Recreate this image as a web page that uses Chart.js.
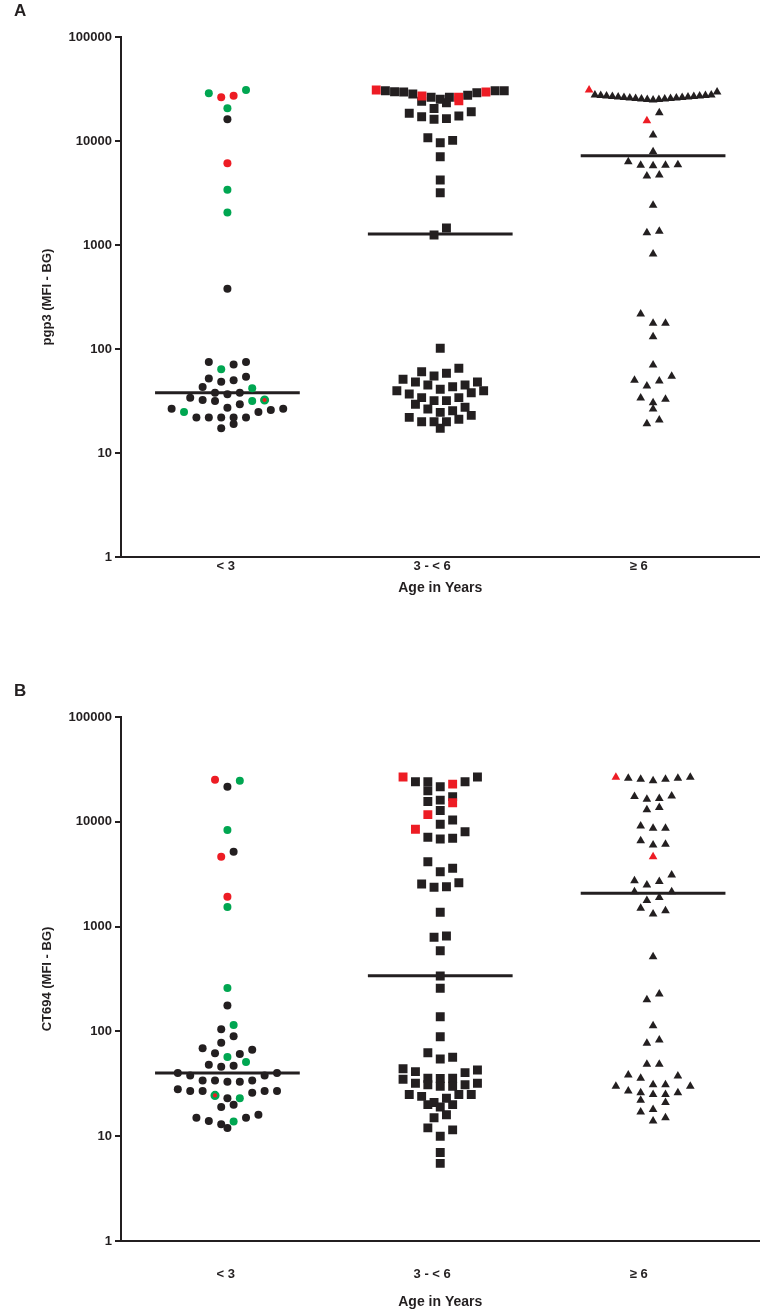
<!DOCTYPE html>
<html><head><meta charset="utf-8">
<script src="https://cdn.jsdelivr.net/npm/chart.js@4"></script>
<style>
body{margin:0;background:#fff;width:766px;height:1313px;position:relative;overflow:hidden;font-family:"Liberation Sans",Arial,sans-serif}
.panel{position:absolute;left:0;width:766px}
.lab{position:absolute;left:14px;font-weight:bold;font-size:17px;line-height:20px;color:#231f20}
</style></head><body>
<div class="panel" style="top:0;height:597px"><canvas id="cA" width="766" height="597"></canvas></div>
<div class="panel" style="top:656px;height:655px"><canvas id="cB" width="766" height="655"></canvas></div>
<div class="lab" style="top:1px">A</div>
<div class="lab" style="top:681px">B</div>
<script>
// ---------- DATA ----------
const categories = ['< 3', '3 - < 6', '\u2265 6'];
const yTicks = [1, 10, 100, 1000, 10000, 100000];

// Panel A : pgp3
const aLt3Black = [16200, 380, 75, 71, 75, 54, 50, 48.5, 52, 43, 38, 34, 36.7, 38, 29.4, 31.6, 32.3, 27.3, 26.7, 24.8, 25.9, 26.7, 22, 22, 22, 22, 22, 17.3, 19];
const aLt3Green = [28770, 30900, 20600, 3400, 2050, 64, 42, 31.6, 24.8];
const aLt3Red = [26300, 27300, 6100];
const aLt3RedOnGreen = [32.3];
const a3to6Black = [30470, 29600, 29150, 26300, 23300, 24100, 25200, 26300, 27500, 28300, 29800, 30470, 30470,
  19100, 17400, 16400, 16200, 17100, 18500, 20500, 10760, 9630, 10140, 7060, 4220, 3180, 1250, 1456,
  101.6, 65.2, 58.4, 60.5, 51.1, 48.2, 45.1, 43.4, 45.1, 48.2, 55, 41, 39.7, 36.9, 34.1, 31.9, 31.9, 34.1, 38, 39.7,
  29.4, 26.5, 24.6, 23, 20, 25.5, 27.5, 21.1, 20, 17.3, 20, 22];
const a3to6Red = [27100, 26300, 24400, 29600, 30900];
const aGe6Black = [27700, 27400, 27100, 26800, 26500, 26200, 25900, 25600, 25300, 25000, 24800, 25000, 25300, 25600, 25900, 26200, 26500, 26800, 27100, 27400, 27700,
  29600, 18700, 11400, 7890, 5840, 5840, 6320, 5790, 5920, 4710, 4610, 2410, 1355, 1313, 819, 217, 177, 177, 131,
  70, 50, 54.7, 44, 49.3, 33.8, 32.8, 30.5, 26.5, 20.8, 19.1];
const aGe6Red = [30900, 15700];
const aMedians = [38, 1275, 7220];

// Panel B : CT694
const bLt3Black = [21600, 5190, 177, 105, 90, 78, 67, 69, 62, 61, 48, 46, 47, 40, 38, 40, 38, 34, 34, 33, 34, 33, 27, 27, 28, 27, 27, 26, 23, 20, 19, 15, 16, 15, 14, 13, 12];
const bLt3Green = [24700, 8350, 1540, 259, 115, 57, 51, 23, 13.8];
const bLt3Red = [25200, 4650, 1930];
const bLt3RedOnGreen = [24.5];
const b3to6Black = [24100, 21600, 24100, 19800, 24100, 26800, 16100, 17400, 15600, 12800, 10400, 9460, 8050, 6970, 6860, 7110,
  4160, 3340, 3600, 2620, 2400, 2370, 2550, 1370, 813, 791, 589, 338, 258, 138, 89,
  62.6, 54.6, 56.6, 44, 41.3, 40.4, 42.8, 35.7, 35, 35.5, 35.7, 31, 32, 30, 31, 32, 30, 25, 24, 25, 23, 25, 21, 20, 20, 19, 15, 16, 12, 11.5, 10, 7, 5.5];
const b3to6Red = [26800, 22900, 15200, 11700, 8480];
const bGe6Black = [26000, 25400, 24700, 25400, 26000, 26600, 16400, 17600, 17400, 16700, 13000, 13700, 8670, 9120, 8670, 6010, 6610, 6100,
  3100, 2740, 2490, 2690, 2150, 2150, 1900, 1770, 1500, 1420, 1320, 516, 228, 200, 113, 77, 83,
  48.6, 48.6, 38.4, 37.5, 35.7, 31, 30, 31, 30, 26, 25, 26, 25, 27, 22, 21, 17, 18, 14, 15];
const bGe6Red = [26600, 4650];
const bMedians = [40, 340, 2080];

// ---------- STYLE ----------
const INK = '#231f20', GREEN = '#00a651', RED = '#ed1c24';
const FONT = 'Liberation Sans, Arial, sans-serif';
Chart.defaults.font.family = FONT;
const STEP = 12.4, BIN = 10, HALFW = 64, MEDIAN_HALF = 0.34;

function setsFor(style, radius, list) {
  return {style, radius, sets: list};
}

function buildPanel(id, yTitle, groups, medians, geo) {
  const datasets = [];
  groups.forEach((g, gi) => {
    g.sets.forEach(s => {
      datasets.push({
        type: 'scatter', group: gi, xAxisID: 'x', yAxisID: 'y',
        data: s.vals.map(v => ({x: gi, y: v})),
        pointStyle: g.style, pointRadius: s.r || g.radius,
        backgroundColor: s.fill, borderColor: s.stroke || s.fill, borderWidth: s.bw || 0,
        order: s.order
      });
    });
  });
  medians.forEach((m, gi) => datasets.push({
    type: 'line', xAxisID: 'x', yAxisID: 'y',
    data: [{x: gi - MEDIAN_HALF, y: m}, {x: gi + MEDIAN_HALF, y: m}],
    borderColor: INK, borderWidth: 3, pointRadius: 0, order: 10
  }));
  const bold13 = {family: FONT, size: 13, weight: 'bold'};
  const chart = new Chart(document.getElementById(id), {
    type: 'scatter',
    data: {datasets},
    options: {
      responsive: false, animation: false, events: [],
      layout: {padding: {top: geo.padTop, right: 5, left: 0, bottom: 0}},
      plugins: {legend: {display: false}, tooltip: {enabled: false}},
      scales: {
        x: {type: 'linear', min: -0.5, max: 2.5, display: false},
        xl: {
          type: 'linear', position: 'bottom', min: -0.507, max: 2.585,
          afterBuildTicks: s => { s.ticks = [0, 1, 2].map(v => ({value: v})); },
          ticks: {callback: v => categories[v], font: bold13, color: INK, padding: geo.tickPad, autoSkip: false, maxRotation: 0},
          grid: {drawOnChartArea: false, drawTicks: false},
          border: {display: true, color: INK, width: 2},
          title: {display: true, text: 'Age in Years', font: {family: FONT, size: 14, weight: 'bold'}, color: INK, padding: {top: 4, bottom: 0}},
          afterFit: s => { s.height = geo.xH; }
        },
        y: {
          type: 'logarithmic', min: 1, max: 100000,
          afterBuildTicks: s => { s.ticks = yTicks.map(v => ({value: v})); },
          ticks: {callback: v => String(v), font: bold13, color: INK, padding: 3, autoSkip: false},
          grid: {drawOnChartArea: false, drawTicks: true, tickLength: 6, color: INK, lineWidth: 2},
          border: {display: true, color: INK, width: 2},
          title: {display: true, text: yTitle, font: bold13, color: INK, padding: {top: 40, bottom: 0}},
          afterFit: s => { s.width = 121; }
        }
      }
    }
  });
  layoutSwarm(chart);
  return chart;
}

// GraphPad-like column scatter: points binned in rows, rows centred, lowest value in the middle
function layoutSwarm(chart) {
  const xs = chart.scales.x, ys = chart.scales.y;
  const ppu = xs.getPixelForValue(1) - xs.getPixelForValue(0);
  const byGroup = {};
  chart.data.datasets.forEach(ds => {
    if (ds.type !== 'scatter') return;
    ds.data.forEach(p => { (byGroup[ds.group] = byGroup[ds.group] || []).push({p, py: ys.getPixelForValue(p.y)}); });
  });
  Object.keys(byGroup).forEach(g => {
    const items = byGroup[g].sort((a, b) => a.py - b.py);
    let i = 0;
    while (i < items.length) {
      const start = items[i].py; let j = i;
      while (j < items.length && items[j].py - start < BIN) j++;
      const row = items.slice(i, j).sort((a, b) => a.p.y - b.p.y);
      const n = row.length;
      const sp = n > 1 ? Math.min(STEP, 2 * HALFW / (n - 1)) : 0;
      const slots = [];
      for (let k = 0; k < n; k++) slots.push((k - (n - 1) / 2) * sp);
      slots.sort((a, b) => (Math.abs(a) - Math.abs(b)) || (n % 2 ? b - a : a - b));
      row.forEach((it, k) => { it.p.x = +g + slots[k] / ppu; });
      i = j;
    }
  });
  chart.update('none');
}

buildPanel('cA', 'pgp3 (MFI - BG)', [
  setsFor('circle', 4, [
    {vals: aLt3Black, fill: INK, order: 4},
    {vals: aLt3Green, fill: GREEN, order: 3},
    {vals: aLt3Red, fill: RED, order: 2},
    {vals: aLt3RedOnGreen, fill: RED, stroke: GREEN, bw: 2.5, r: 3.3, order: 1}
  ]),
  setsFor('rect', 6.3, [
    {vals: a3to6Black, fill: INK, order: 4},
    {vals: a3to6Red, fill: RED, order: 2}
  ]),
  setsFor('triangle', 5, [
    {vals: aGe6Black, fill: INK, order: 4},
    {vals: aGe6Red, fill: RED, order: 2}
  ])
], aMedians, {padTop: 37, xH: 40, tickPad: 2});

buildPanel('cB', 'CT694 (MFI - BG)', [
  setsFor('circle', 4, [
    {vals: bLt3Black, fill: INK, order: 4},
    {vals: bLt3Green, fill: GREEN, order: 3},
    {vals: bLt3Red, fill: RED, order: 2},
    {vals: bLt3RedOnGreen, fill: RED, stroke: GREEN, bw: 2.5, r: 3.3, order: 1}
  ]),
  setsFor('rect', 6.3, [
    {vals: b3to6Black, fill: INK, order: 4},
    {vals: b3to6Red, fill: RED, order: 2}
  ]),
  setsFor('triangle', 5, [
    {vals: bGe6Black, fill: INK, order: 4},
    {vals: bGe6Red, fill: RED, order: 2}
  ])
], bMedians, {padTop: 61, xH: 70, tickPad: 26});
</script>
</body></html>
